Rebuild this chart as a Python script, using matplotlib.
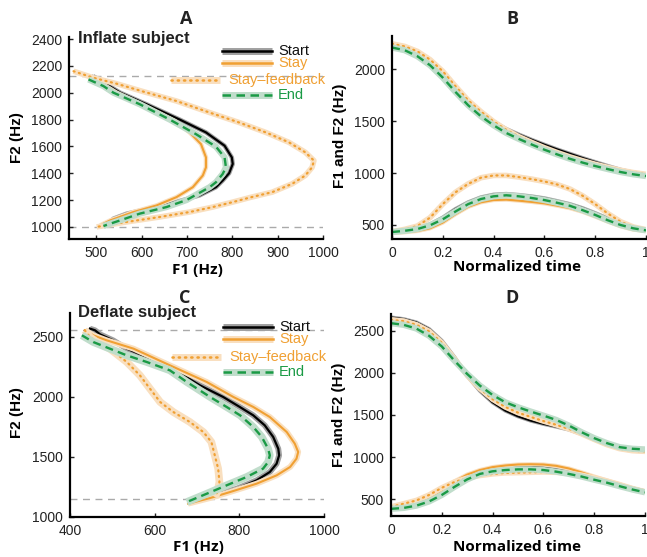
import matplotlib
matplotlib.use('Agg')
import matplotlib.pyplot as plt

# colours
ORANGE = '#F0A033'
ORANGE_BAND = '#F9DFBF'
GREEN = '#1A9A45'
GREEN_BAND = '#C0DDCB'
GRAY_BAND = '#A0A0A0'

# ---------------- panel A (inflate subject, F1 vs F2) ----------------
A_start_f1 = [493, 523, 553, 611, 684, 742, 783, 799, 801, 793, 779, 764, 728, 691, 633, 567, 538, 531]
A_start_f2 = [2124, 2062, 2000, 1914, 1800, 1704, 1605, 1518, 1469, 1400, 1346, 1296, 1235, 1200, 1148, 1099, 1062, 1037]
A_stay_f1 = [490, 516, 545, 608, 673, 706, 731, 742, 742, 735, 713, 677, 633, 582, 531, 509]
A_stay_f2 = [2116, 2060, 2000, 1900, 1790, 1704, 1617, 1518, 1444, 1383, 1296, 1222, 1160, 1111, 1049, 1012]
A_fb_f1 = [450, 494, 545, 605, 677, 750, 815, 874, 925, 961, 980, 976, 961, 932, 888, 840, 801, 757, 706, 640, 567, 501]
A_fb_f2 = [2160, 2111, 2067, 2007, 1938, 1852, 1778, 1704, 1630, 1556, 1494, 1444, 1383, 1321, 1259, 1220, 1185, 1148, 1111, 1074, 1037, 1000]
A_end_f1 = [483, 516, 538, 596, 662, 720, 764, 783, 786, 779, 764, 750, 699, 655, 596, 553, 516]
A_end_f2 = [2099, 2049, 2000, 1914, 1800, 1691, 1598, 1518, 1444, 1395, 1333, 1296, 1200, 1148, 1099, 1049, 1007]
A_refs = [2125, 1000]

# ---------------- panel C (deflate subject, F1 vs F2) ----------------
C_start_f1 = [447, 459, 471, 502, 534, 581, 620, 668, 707, 762, 801, 833, 860, 880, 892, 894, 888, 872, 841, 794, 738, 683]
C_start_f2 = [2570, 2556, 2522, 2472, 2403, 2333, 2264, 2181, 2097, 2000, 1917, 1847, 1764, 1667, 1569, 1514, 1444, 1375, 1306, 1236, 1181, 1125]
C_stay_f1 = [435, 455, 487, 550, 636, 723, 786, 833, 872, 912, 931, 939, 935, 920, 888, 841, 778, 731, 679]
C_stay_f2 = [2556, 2514, 2472, 2403, 2264, 2125, 2000, 1917, 1833, 1708, 1611, 1542, 1486, 1417, 1347, 1278, 1208, 1158, 1111]
C_fb_f1 = [435, 447, 463, 494, 534, 565, 589, 613, 644, 683, 715, 734, 742, 750, 753, 748, 742]
C_fb_f2 = [2556, 2500, 2458, 2403, 2292, 2181, 2069, 1958, 1875, 1792, 1708, 1625, 1514, 1403, 1292, 1208, 1167]
C_end_f1 = [428, 455, 494, 534, 581, 636, 676, 731, 770, 802, 833, 853, 868, 872, 868, 856, 817, 770, 723, 676]
C_end_f2 = [2514, 2458, 2403, 2347, 2292, 2222, 2125, 2000, 1917, 1847, 1750, 1667, 1569, 1514, 1458, 1403, 1333, 1264, 1194, 1125]
C_refs = [2560, 1150]

# ---------------- panels B and D (time courses) ----------------
time = [0, 0.05, 0.1, 0.15, 0.2, 0.25, 0.3, 0.35, 0.4, 0.45, 0.5,
        0.55, 0.6, 0.65, 0.7, 0.75, 0.8, 0.85, 0.9, 0.95, 1]

B_start_f1 = [432, 445, 468, 506, 571, 653, 718, 766, 792, 799, 789, 775, 757, 730, 701, 662, 614, 562, 513, 474, 455]
B_stay_f1 = [422, 430, 442, 468, 523, 604, 675, 718, 740, 744, 734, 722, 708, 686, 662, 627, 581, 532, 487, 455, 442]
B_fb_f1 = [435, 458, 490, 571, 701, 815, 896, 955, 977, 977, 961, 942, 919, 890, 847, 782, 701, 610, 532, 481, 455]
B_end_f1 = [432, 444, 461, 497, 555, 630, 701, 750, 776, 786, 776, 760, 740, 714, 685, 643, 597, 545, 500, 468, 448]
B_start_f2 = [2235, 2210, 2157, 2070, 1958, 1813, 1685, 1579, 1492, 1424, 1370, 1320, 1273, 1228, 1186, 1145, 1106, 1068, 1032, 1005, 987]
B_stay_f2 = [2241, 2215, 2167, 2087, 1974, 1829, 1694, 1588, 1492, 1412, 1347, 1292, 1241, 1196, 1154, 1118, 1084, 1054, 1026, 1004, 987]
B_fb_f2 = [2245, 2220, 2172, 2092, 1980, 1836, 1700, 1592, 1496, 1416, 1350, 1295, 1244, 1198, 1156, 1119, 1085, 1055, 1027, 1005, 988]
B_end_f2 = [2209, 2183, 2125, 2038, 1919, 1781, 1653, 1547, 1460, 1386, 1328, 1275, 1225, 1180, 1138, 1101, 1068, 1038, 1010, 988, 971]

D_start_f1 = [405, 418, 440, 495, 600, 700, 780, 825, 855, 877, 888, 884, 872, 850, 822, 790, 754, 714, 673, 630, 592]
D_stay_f1 = [415, 427, 454, 512, 608, 712, 792, 846, 881, 900, 912, 915, 912, 896, 865, 819, 769, 723, 677, 627, 588]
D_fb_f1 = [408, 446, 485, 550, 635, 704, 750, 781, 800, 812, 815, 819, 823, 819, 808, 785, 754, 715, 673, 627, 588]
D_end_f1 = [385, 396, 423, 473, 550, 646, 735, 800, 831, 846, 854, 854, 846, 827, 800, 769, 731, 696, 654, 615, 581]
D_start_f2 = [2658, 2638, 2599, 2520, 2381, 2184, 1967, 1789, 1651, 1553, 1485, 1434, 1395, 1363, 1328, 1276, 1217, 1166, 1118, 1091, 1079]
D_stay_f2 = [2638, 2622, 2579, 2500, 2362, 2164, 1967, 1809, 1683, 1592, 1525, 1474, 1426, 1383, 1335, 1276, 1209, 1146, 1099, 1075, 1067]
D_fb_f2 = [2630, 2615, 2572, 2494, 2358, 2166, 1972, 1815, 1688, 1596, 1528, 1477, 1428, 1384, 1336, 1277, 1210, 1148, 1100, 1076, 1068]
D_end_f2 = [2591, 2571, 2527, 2441, 2314, 2145, 1987, 1849, 1738, 1651, 1592, 1541, 1493, 1442, 1375, 1296, 1225, 1166, 1118, 1099, 1091]

legend_labels = ['Start', 'Stay', 'Stay\u2013feedback', 'End']

TICKFONT = 'Liberation Sans'
HEADFONT = 'Open Sans'
plt.rcParams['font.family'] = TICKFONT

W, H = 647, 557
fig = plt.figure(figsize=(W / 100, H / 100), dpi=100)


def px_axes(left, top, right, bottom):
    return fig.add_axes([left / W, 1 - bottom / H, (right - left) / W, (bottom - top) / H])


def style(ax):
    for s in ['top', 'right']:
        ax.spines[s].set_visible(False)
    for s in ['left', 'bottom']:
        ax.spines[s].set_linewidth(1.6)
        ax.spines[s].set_color('black')
    ax.tick_params(direction='in', length=3, width=1, labelsize=10, pad=5, colors='#222222')


def draw(ax, series, bw):
    # series: list of (x, y) for start, stay, feedback, end
    (sx, sy), (tx, ty), (fx, fy), (ex, ey) = series
    ax.plot(sx, sy, color=GRAY_BAND, lw=bw[0], solid_capstyle='butt', zorder=2)
    ax.plot(sx, sy, color='black', lw=1.6, zorder=2)
    ax.plot(tx, ty, color=ORANGE_BAND, lw=bw[1], solid_capstyle='butt', zorder=2)
    ax.plot(tx, ty, color=ORANGE, lw=1.5, zorder=2)
    ax.plot(fx, fy, color=ORANGE_BAND, lw=bw[2], solid_capstyle='butt', zorder=2)
    ax.plot(fx, fy, color=ORANGE, lw=1.6, dashes=(0.5, 2.0), dash_capstyle='round', zorder=2)
    ax.plot(ex, ey, color=GREEN_BAND, lw=bw[3], solid_capstyle='butt', zorder=2)
    ax.plot(ex, ey, color=GREEN, lw=1.7, dashes=(3.4, 2.2), zorder=2)


def legend(ax):
    rows = [0.932, 0.871, 0.786, 0.713]
    handles = [(0.602, 0.799), (0.602, 0.799), (0.402, 0.594), (0.602, 0.799)]
    tx = [0.823, 0.823, 0.626, 0.823]
    bands = [GRAY_BAND, ORANGE_BAND, ORANGE_BAND, GREEN_BAND]
    cols = ['black', ORANGE, ORANGE, GREEN]
    tcols = ['#111111', ORANGE, ORANGE, GREEN]
    for i, lab in enumerate(legend_labels):
        x0, x1 = handles[i]
        ax.plot([x0, x1], [rows[i], rows[i]], transform=ax.transAxes, color=bands[i],
                lw=5, solid_capstyle='butt', clip_on=False, zorder=5)
        kw = {}
        if i == 2:
            kw = dict(dashes=(0.5, 2.0), dash_capstyle='round')
        elif i == 3:
            kw = dict(dashes=(3.4, 2.2))
        ax.plot([x0, x1], [rows[i], rows[i]], transform=ax.transAxes, color=cols[i],
                lw=1.8, clip_on=False, zorder=6, **kw)
        ax.text(tx[i], rows[i], lab, transform=ax.transAxes, color=tcols[i], fontsize=10.5,
                va='center', ha='left', zorder=6)


def labels(ax, xl, yl, xpos, ypos):
    ax.set_xlabel(xl, fontsize=11, fontweight='bold', family=HEADFONT, va='center')
    ax.xaxis.set_label_coords(*xpos)
    ax.set_ylabel(yl, fontsize=11, fontweight='bold', va='center')
    ax.yaxis.set_label_coords(*ypos)


# ---- A
axA = px_axes(69, 37, 323, 239)
style(axA)
for r in A_refs:
    axA.axhline(r, color='#AAAAAA', lw=1, dashes=(5, 4), zorder=1)
draw(axA, [(A_start_f1, A_start_f2), (A_stay_f1, A_stay_f2), (A_fb_f1, A_fb_f2), (A_end_f1, A_end_f2)],
     [3.2, 3.2, 4.0, 4.5])
axA.set_xlim(440, 1000)
axA.set_ylim(910, 2415)
axA.set_xticks([500, 600, 700, 800, 900, 1000])
axA.set_yticks(range(1000, 2401, 200))
legend(axA)
labels(axA, 'F1 (Hz)', 'F2 (Hz)', (0.504, -0.153), (-0.205, 0.5))

# ---- B
axB = px_axes(392, 36, 646, 239)
style(axB)
draw(axB, [(time, B_start_f1), (time, B_stay_f1), (time, B_fb_f1), (time, B_end_f1)], [3.0, 3.0, 4.0, 4.5])
draw(axB, [(time, B_start_f2), (time, B_stay_f2), (time, B_fb_f2), (time, B_end_f2)], [3.0, 3.0, 4.0, 4.5])
axB.set_xlim(0, 1)
axB.set_ylim(365, 2320)
axB.set_xticks([0, 0.2, 0.4, 0.6, 0.8, 1])
axB.set_xticklabels(['0', '0.2', '0.4', '0.6', '0.8', '1'])
axB.set_yticks([500, 1000, 1500, 2000])
labels(axB, 'Normalized time', 'F1 and F2 (Hz)', (0.492, -0.138), (-0.205, 0.51))

# ---- C
axC = px_axes(70, 313, 324, 517)
style(axC)
for r in C_refs:
    axC.axhline(r, color='#AAAAAA', lw=1, dashes=(5, 4), zorder=1)
draw(axC, [(C_start_f1, C_start_f2), (C_stay_f1, C_stay_f2), (C_fb_f1, C_fb_f2), (C_end_f1, C_end_f2)],
     [4.2, 4.2, 5.5, 5.5])
axC.set_xlim(400, 1000)
axC.set_ylim(1000, 2700)
axC.set_xticks([400, 600, 800, 1000])
axC.set_yticks([1000, 1500, 2000, 2500])
legend(axC)
labels(axC, 'F1 (Hz)', 'F2 (Hz)', (0.504, -0.147), (-0.209, 0.51))

# ---- D
axD = px_axes(391, 314, 645, 516)
style(axD)
draw(axD, [(time, D_start_f1), (time, D_stay_f1), (time, D_fb_f1), (time, D_end_f1)], [3.0, 3.0, 4.0, 4.5])
draw(axD, [(time, D_start_f2), (time, D_stay_f2), (time, D_fb_f2), (time, D_end_f2)], [3.0, 3.0, 4.0, 4.5])
axD.set_xlim(0, 1)
axD.set_ylim(300, 2700)
axD.set_xticks([0, 0.2, 0.4, 0.6, 0.8, 1])
axD.set_xticklabels(['0', '0.2', '0.4', '0.6', '0.8', '1'])
axD.set_yticks([500, 1000, 1500, 2000, 2500])
labels(axD, 'Normalized time', 'F1 and F2 (Hz)', (0.496, -0.152), (-0.205, 0.5))

# panel letters and subject captions
for lab, x, y in [('A', 186, 19), ('B', 512, 19), ('C', 185, 298), ('D', 512, 298)]:
    fig.text(x / W, 1 - y / H, lab, fontsize=13, fontweight='bold', family=HEADFONT,
             ha='center', va='center', color='#222222')
fig.text(78 / W, 1 - 39 / H, 'Inflate subject', fontsize=12, fontweight='bold', ha='left', va='center',
         color='#222222')
fig.text(78 / W, 1 - 313 / H, 'Deflate subject', fontsize=12, fontweight='bold', ha='left', va='center',
         color='#222222')

fig.savefig('out.png', dpi=100)
